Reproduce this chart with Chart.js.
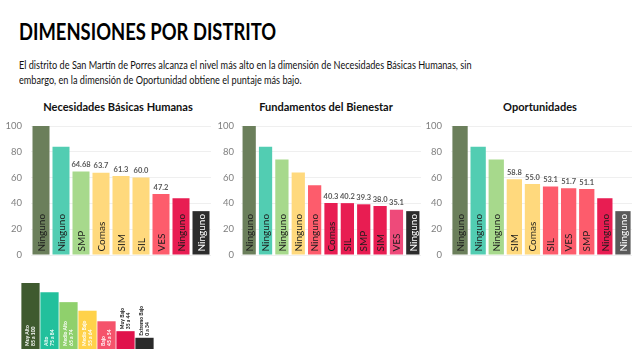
<!DOCTYPE html>
<html>
<head>
<meta charset="utf-8">
<script src="https://cdn.jsdelivr.net/npm/chart.js@4.4.0/dist/chart.umd.min.js"></script>
<style>
  body { margin: 0; width: 640px; height: 355px; background: #fff; position: relative; overflow: hidden; font-family: Lato, "Open Sans", sans-serif; }
  h1 { position: absolute; left: 19px; top: 17px; margin: 0; font-size: 23px; font-weight: 700; color: #000; white-space: nowrap;
       transform: scaleX(0.80); transform-origin: left top; }
  p { position: absolute; left: 19px; top: 58px; margin: 0; font-size: 11.5px; line-height: 14.5px; color: #111; white-space: nowrap;
      transform: scaleX(0.795); transform-origin: left top; }
  .ptitle { position: absolute; top: 99px; font-size: 12px; font-weight: 700; color: #111; text-align: center; white-space: nowrap;
            transform: scaleX(0.92); }
  canvas { position: absolute; }
</style>
</head>
<body>
<h1>DIMENSIONES POR DISTRITO</h1>
<p>El distrito de San Martín de Porres alcanza el nivel más alto en la dimensión de Necesidades Básicas Humanas, sin<br>embargo, en la dimensión de Oportunidad obtiene el puntaje más bajo.</p>

<div class="ptitle" style="left:18px;width:200px">Necesidades Básicas Humanas</div>
<div class="ptitle" style="left:226px;width:200px">Fundamentos del Bienestar</div>
<div class="ptitle" style="left:440px;width:200px">Oportunidades</div>

<canvas id="nbh" width="211" height="145" style="left:0px;top:119px"></canvas>
<canvas id="fdb" width="211" height="145" style="left:210px;top:119px"></canvas>
<canvas id="opo" width="212" height="145" style="left:420px;top:119px"></canvas>
<canvas id="leyenda" width="133" height="75" style="left:21px;top:275px"></canvas>

<script>
// Necesidades Básicas Humanas
const nbhLabels = ['Ninguno', 'Ninguno', 'SMP', 'Comas', 'SIM', 'SIL', 'VES', 'Ninguno', 'Ninguno'];
const nbhValues = [100, 84, 64.68, 63.7, 61.3, 60.0, 47.2, 44, 34];
const nbhTexts  = ['', '', '64.68', '63.7', '61.3', '60.0', '47.2', '', ''];

// Fundamentos del Bienestar
const fdbLabels = ['Ninguno', 'Ninguno', 'Ninguno', 'Ninguno', 'Ninguno', 'Comas', 'SIL', 'SMP', 'SIM', 'VES', 'Ninguno'];
const fdbValues = [100, 84, 74, 64, 54, 40.3, 40.2, 39.3, 38.0, 35.1, 34];
const fdbTexts  = ['', '', '', '', '', '40.3', '40.2', '39.3', '38.0', '35.1', ''];

// Oportunidades
const opoLabels = ['Ninguno', 'Ninguno', 'Ninguno', 'SIM', 'Comas', 'SIL', 'VES', 'SMP', 'Ninguno', 'Ninguno'];
const opoValues = [100, 84, 74, 58.8, 55.0, 53.1, 51.7, 51.1, 44, 34];
const opoTexts  = ['', '', '', '58.8', '55.0', '53.1', '51.7', '51.1', '', ''];

// leyenda de niveles
const levelNames  = ['Muy Alto', 'Alto', 'Medio Alto', 'Medio Bajo', 'Bajo', 'Muy Bajo', 'Extremo Bajo'];
const levelRanges = ['85 a 100', '75 a 84', '65 a 74', '55 a 64', '45 a 54', '35 a 44', '0 a 34'];
const levelSteps  = [100, 86, 71, 58, 42, 27, 17];

const yTicks = [0, 20, 40, 60, 80, 100];

// colores
const OLIVE = '#6b7f5b', TEAL = '#52cdb2', LGREEN = '#a7d98c', YELLOW = '#ffd97d',
      PINK = '#fd5c6c', CRIMSON = '#e81d52', BLACK = '#2c2c2c', GRAY = '#5a5a5a';
const nbhColors = [OLIVE, TEAL, LGREEN, YELLOW, YELLOW, YELLOW, PINK, CRIMSON, BLACK];
const fdbColors = [OLIVE, TEAL, LGREEN, YELLOW, PINK, CRIMSON, CRIMSON, CRIMSON, CRIMSON, '#ee4a7a', BLACK];
const opoColors = [OLIVE, TEAL, LGREEN, YELLOW, YELLOW, PINK, PINK, PINK, CRIMSON, GRAY];
const levelColors = ['#3f5a2f', '#22c09c', '#8fd06c', '#ffd24a', '#f5536b', '#e0124b', '#2a2a2a'];

const FONT = 'Lato, "Open Sans", sans-serif';

// texto rotado dentro de la barra + valor encima
const barText = {
  id: 'barText',
  afterDatasetsDraw(chart, args, opts) {
    const ctx = chart.ctx;
    const meta = chart.getDatasetMeta(0);
    meta.data.forEach((bar, i) => {
      ctx.save();
      ctx.translate(bar.x, bar.base - 3);
      ctx.rotate(-Math.PI / 2);
      ctx.font = '10px ' + FONT;
      ctx.textAlign = 'left';
      ctx.textBaseline = 'middle';
      const dark = opts.colors[i] === BLACK || opts.colors[i] === GRAY;
      ctx.fillStyle = dark ? '#ffffff' : '#1c1c1c';
      ctx.fillText(chart.data.labels[i], 0, 0.5);
      ctx.restore();
      const t = opts.texts[i];
      if (t) {
        ctx.save();
        ctx.font = 'bold 7.5px ' + FONT;
        ctx.fillStyle = '#595959';
        ctx.textAlign = 'center';
        ctx.textBaseline = 'bottom';
        ctx.fillText(t, bar.x, bar.y - 3);
        ctx.restore();
      }
    });
  }
};

function makePanel(id, labels, values, texts, colors, barPct, tickPad) {
  return new Chart(document.getElementById(id), {
    type: 'bar',
    data: { labels: labels, datasets: [{ data: values, backgroundColor: colors, borderWidth: 0,
      barPercentage: barPct, categoryPercentage: 1 }] },
    options: {
      responsive: false, animation: false,
      layout: { padding: { top: 7, bottom: 9, left: 0, right: 0 } },
      plugins: { legend: { display: false }, tooltip: { enabled: false },
        barText: { texts: texts, colors: colors } },
      scales: {
        x: { display: false },
        y: {
          min: 0, max: 100,
          afterFit: s => { s.width = 31; s.paddingTop = 0; s.paddingBottom = 0; },
          afterBuildTicks: s => { s.ticks = yTicks.map(v => ({ value: v })); },
          ticks: { padding: tickPad, color: '#7f7f7f', font: { family: FONT, size: 9.5 } },
          grid: { color: '#efefef', drawTicks: false },
          border: { display: false }
        }
      }
    },
    plugins: [barText]
  });
}

makePanel('nbh', nbhLabels, nbhValues, nbhTexts, nbhColors, 0.85, 9);
makePanel('fdb', fdbLabels, fdbValues, fdbTexts, fdbColors, 0.81, 7);
makePanel('opo', opoLabels, opoValues, opoTexts, opoColors, 0.845, 9);

// leyenda
const levelText = {
  id: 'levelText',
  afterDatasetsDraw(chart) {
    const ctx = chart.ctx;
    chart.getDatasetMeta(0).data.forEach((bar, i) => {
      const outside = i >= 5;
      ctx.save();
      ctx.translate(bar.x, outside ? bar.y - 2 : bar.base - 3);
      ctx.rotate(-Math.PI / 2);
      ctx.font = 'bold 5px ' + FONT;
      ctx.textAlign = 'left';
      ctx.textBaseline = 'middle';
      ctx.fillStyle = outside ? '#111' : '#ffffff';
      ctx.fillText(levelNames[i], 0, -3);
      ctx.fillText(levelRanges[i], 0, 3);
      ctx.restore();
    });
  }
};

new Chart(document.getElementById('leyenda'), {
  type: 'bar',
  data: { labels: levelNames, datasets: [{ data: levelSteps, backgroundColor: levelColors, borderWidth: 0,
    barPercentage: 0.96, categoryPercentage: 1 }] },
  options: {
    responsive: false, animation: false,
    layout: { padding: { top: 8, bottom: 1 } },
    plugins: { legend: { display: false }, tooltip: { enabled: false } },
    scales: { x: { display: false }, y: { display: false, min: 0, max: 100 } }
  },
  plugins: [levelText]
});
</script>
</body>
</html>
